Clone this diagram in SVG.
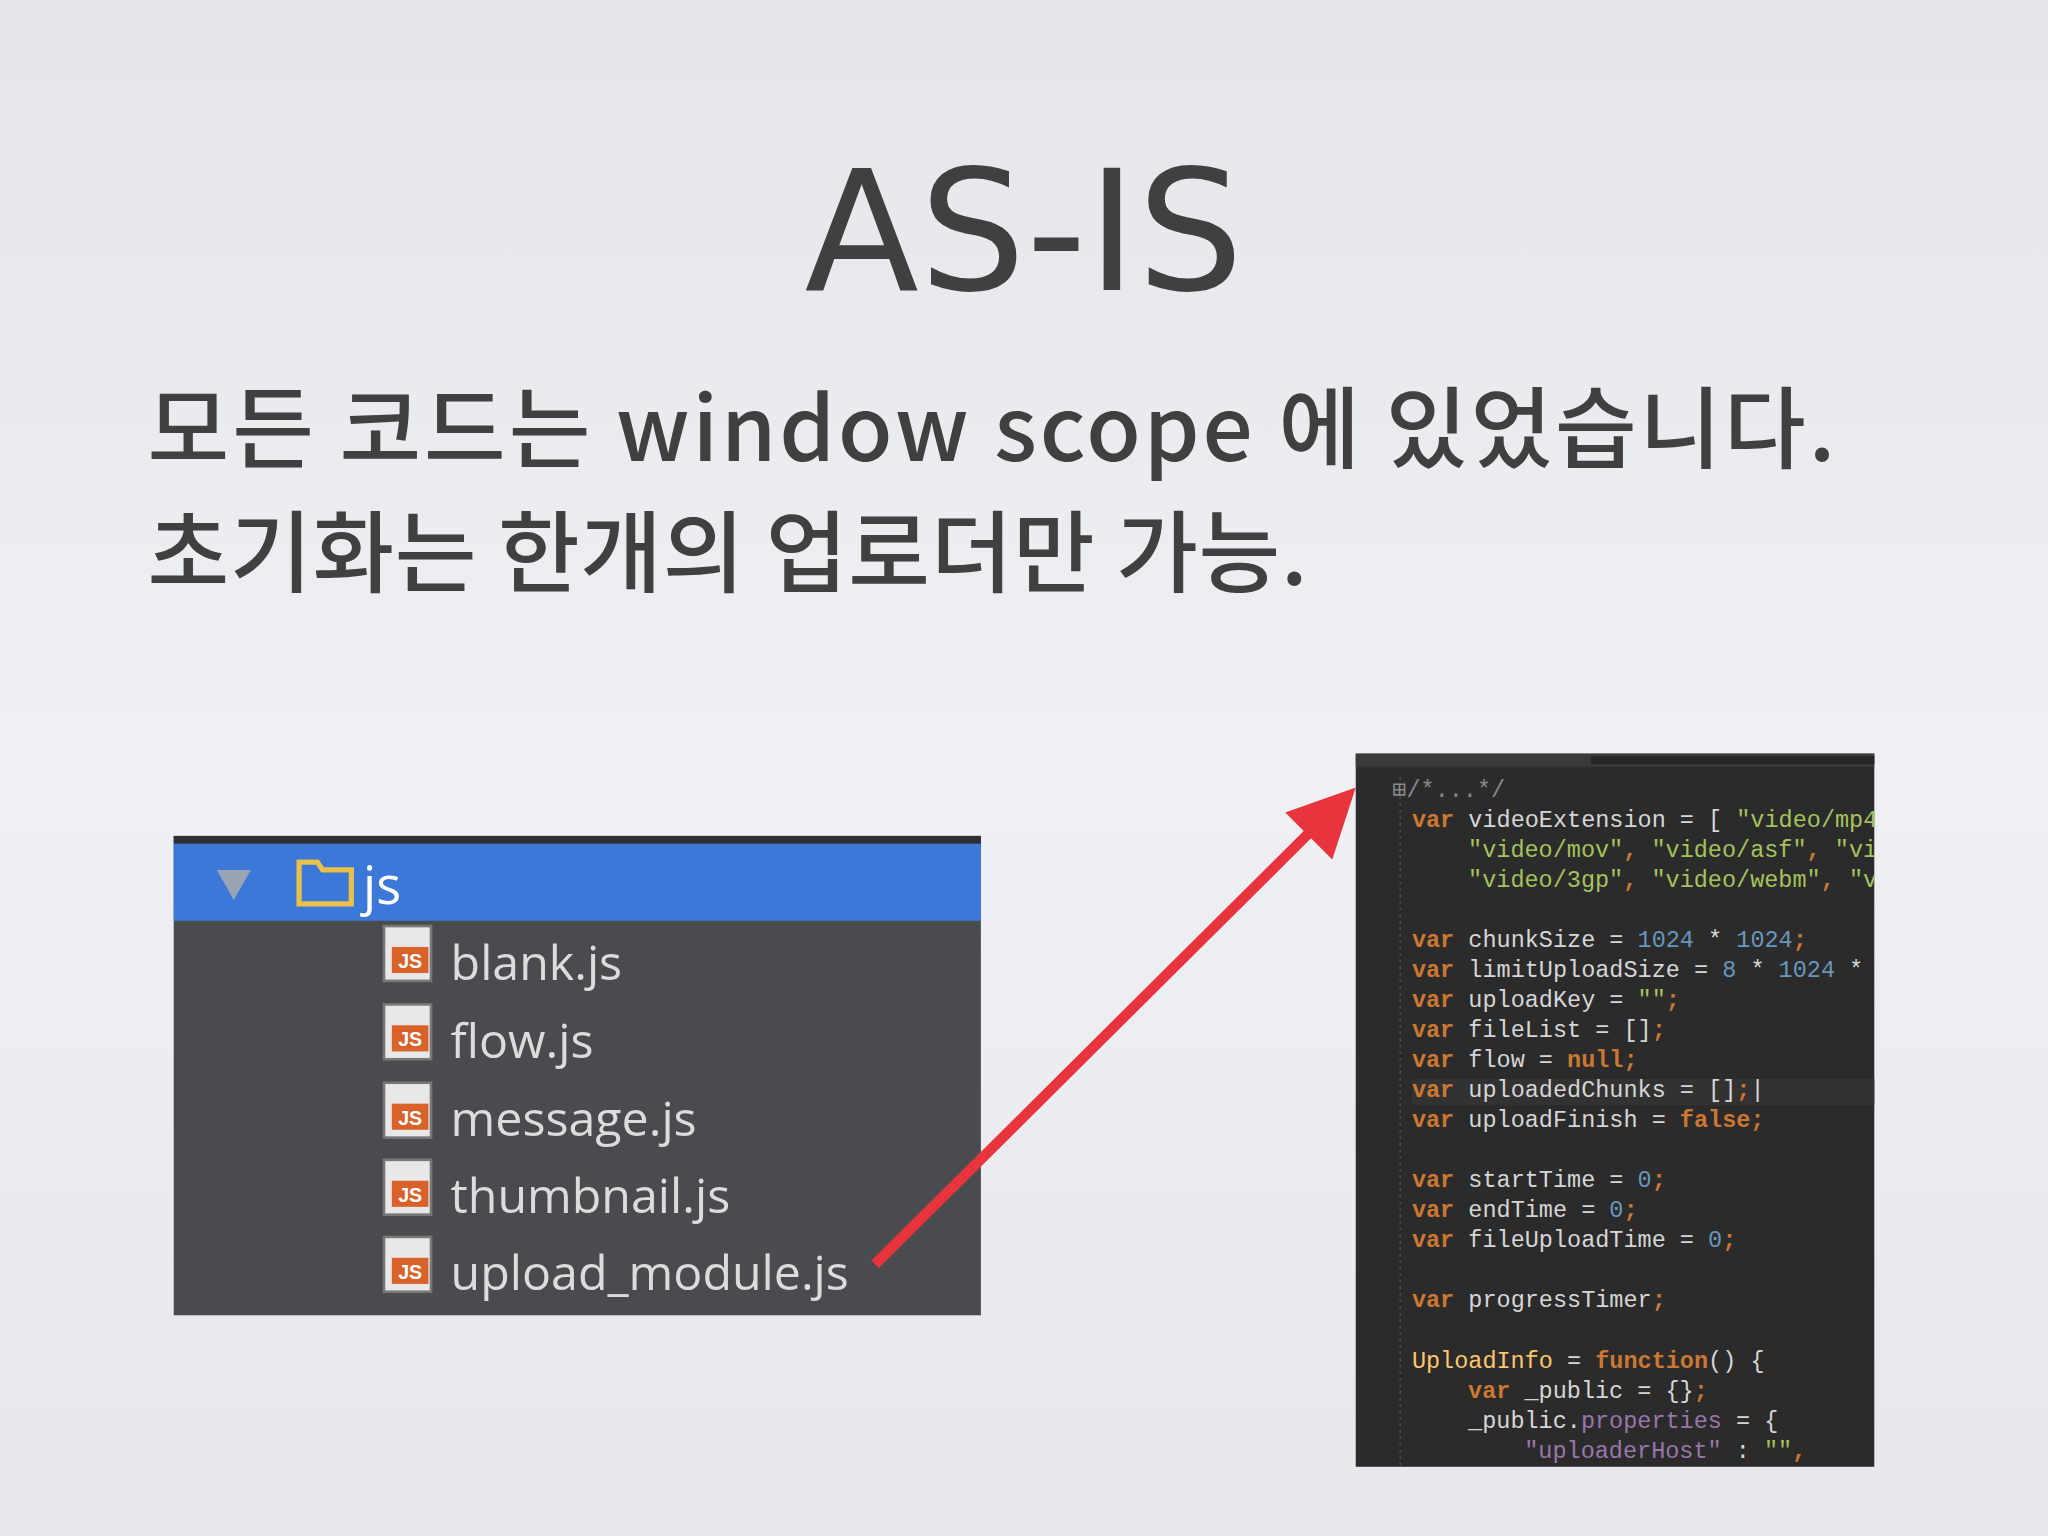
<svg xmlns="http://www.w3.org/2000/svg" width="2048" height="1536" viewBox="0 0 2048 1536">
<defs>
<linearGradient id="bg" x1="0" y1="0" x2="0" y2="1"><stop offset="0" stop-color="#e4e6ea"/><stop offset="0.5" stop-color="#eef0f3"/><stop offset="1" stop-color="#e6e8ec"/></linearGradient>
<clipPath id="cp"><rect x="1038" y="577" width="397" height="546"/></clipPath>
<style>
.h{font-family:"Noto Sans CJK KR","Noto Sans",sans-serif;fill:#404040;font-weight:500}
.f{font-family:"Open Sans","Noto Sans",sans-serif;fill:#dcdcdc;font-size:37px}
.c{font-family:"Liberation Mono","DejaVu Sans Mono",monospace;font-size:18px;fill:#d6d6d6}
.k{fill:#cc7832;font-weight:bold}.n{fill:#6897bb}.s{fill:#a5c25c}.p{fill:#9876aa}
.ic{fill:#e8e8e8;stroke:#777;stroke-width:2}
.jb{fill:#d9622b}
</style>
</defs>
<rect width="2048" height="1536" fill="url(#bg)"/>
<g transform="scale(1.30612)">
<g id="title"><text x="784" y="222" text-anchor="middle" class="h" style="font-family:'DejaVu Sans',sans-serif;font-size:128px;font-weight:normal" textLength="336">AS-IS</text></g>
<g id="subtitle">
<text x="113" y="353" class="h" font-size="68" textLength="1292">모든 코드는 window scope 에 있었습니다.</text>
<text x="113" y="448" class="h" font-size="68" textLength="888">초기화는 한개의 업로더만 가능.</text>
</g>
<g id="filetree">
<rect x="133" y="640" width="618" height="367" fill="#4a4b4e"/>
<rect x="133" y="640" width="618" height="6" fill="#2f3033"/>
<rect x="133" y="646" width="618" height="59" fill="#3c78d8"/>
<polygon points="166,666 192,666 179,689" fill="#9aa4b4"/>
<path d="M229,660 h14 l4,6 h22 v26 h-40 z" fill="none" stroke="#e8c04a" stroke-width="4"/>
<text x="278" y="692" class="f" style="fill:#fff;font-size:40px">js</text>
<g id="files">
<g transform="translate(294,709)"><rect class="ic" x="0" y="0" width="36" height="42"/><rect class="jb" x="6" y="16" width="28" height="20"/><text x="20" y="32" font-family="Liberation Sans,sans-serif" font-size="15" fill="#fff" text-anchor="middle" font-weight="bold">JS</text></g>
<g transform="translate(294,769)"><rect class="ic" x="0" y="0" width="36" height="42"/><rect class="jb" x="6" y="16" width="28" height="20"/><text x="20" y="32" font-family="Liberation Sans,sans-serif" font-size="15" fill="#fff" text-anchor="middle" font-weight="bold">JS</text></g>
<g transform="translate(294,829)"><rect class="ic" x="0" y="0" width="36" height="42"/><rect class="jb" x="6" y="16" width="28" height="20"/><text x="20" y="32" font-family="Liberation Sans,sans-serif" font-size="15" fill="#fff" text-anchor="middle" font-weight="bold">JS</text></g>
<g transform="translate(294,888)"><rect class="ic" x="0" y="0" width="36" height="42"/><rect class="jb" x="6" y="16" width="28" height="20"/><text x="20" y="32" font-family="Liberation Sans,sans-serif" font-size="15" fill="#fff" text-anchor="middle" font-weight="bold">JS</text></g>
<g transform="translate(294,947)"><rect class="ic" x="0" y="0" width="36" height="42"/><rect class="jb" x="6" y="16" width="28" height="20"/><text x="20" y="32" font-family="Liberation Sans,sans-serif" font-size="15" fill="#fff" text-anchor="middle" font-weight="bold">JS</text></g>
<text x="345" y="750" class="f">blank.js</text>
<text x="345" y="810" class="f">flow.js</text>
<text x="345" y="870" class="f">message.js</text>
<text x="345" y="929" class="f">thumbnail.js</text>
<text x="345" y="988" class="f">upload_module.js</text>
</g>
</g>
<g id="code">
<rect x="1038" y="577" width="397" height="546" fill="#2b2b2b"/>
<rect x="1038" y="577" width="397" height="10" fill="#3a3a3a"/>
<rect x="1218" y="579" width="217" height="6" fill="#262626"/>
<line x1="1072" y1="595" x2="1072" y2="1123" stroke="#555" stroke-dasharray="2,3"/>
<rect x="1081" y="826" width="354" height="20" fill="#323232"/>
<g clip-path="url(#cp)" class="c">
<text x="1066" y="610"><tspan fill="#888">⊞/*...*/</tspan></text>
<text x="1081" y="633"><tspan class="k">var</tspan> videoExtension = [ <tspan class="s">"video/mp4"</tspan></text>
<text x="1124" y="656"><tspan class="s">"video/mov"</tspan><tspan class="k">,</tspan> <tspan class="s">"video/asf"</tspan><tspan class="k">,</tspan> <tspan class="s">"video</tspan></text>
<text x="1124" y="679"><tspan class="s">"video/3gp"</tspan><tspan class="k">,</tspan> <tspan class="s">"video/webm"</tspan><tspan class="k">,</tspan> <tspan class="s">"video</tspan></text>
<text x="1081" y="725"><tspan class="k">var</tspan> chunkSize = <tspan class="n">1024</tspan> * <tspan class="n">1024</tspan><tspan class="k">;</tspan></text>
<text x="1081" y="748"><tspan class="k">var</tspan> limitUploadSize = <tspan class="n">8</tspan> * <tspan class="n">1024</tspan> *</text>
<text x="1081" y="771"><tspan class="k">var</tspan> uploadKey = <tspan class="s">""</tspan><tspan class="k">;</tspan></text>
<text x="1081" y="794"><tspan class="k">var</tspan> fileList = []<tspan class="k">;</tspan></text>
<text x="1081" y="817"><tspan class="k">var</tspan> flow = <tspan class="k">null;</tspan></text>
<text x="1081" y="840"><tspan class="k">var</tspan> uploadedChunks = []<tspan class="k">;</tspan>|</text>
<text x="1081" y="863"><tspan class="k">var</tspan> uploadFinish = <tspan class="k">false;</tspan></text>
<text x="1081" y="909"><tspan class="k">var</tspan> startTime = <tspan class="n">0</tspan><tspan class="k">;</tspan></text>
<text x="1081" y="932"><tspan class="k">var</tspan> endTime = <tspan class="n">0</tspan><tspan class="k">;</tspan></text>
<text x="1081" y="955"><tspan class="k">var</tspan> fileUploadTime = <tspan class="n">0</tspan><tspan class="k">;</tspan></text>
<text x="1081" y="1001"><tspan class="k">var</tspan> progressTimer<tspan class="k">;</tspan></text>
<text x="1081" y="1047"><tspan fill="#ffc66d">UploadInfo</tspan> = <tspan class="k">function</tspan>() {</text>
<text x="1124" y="1070"><tspan class="k">var</tspan> _public = {}<tspan class="k">;</tspan></text>
<text x="1124" y="1093">_public.<tspan class="p">properties</tspan> = {</text>
<text x="1167" y="1116"><tspan class="p">"uploaderHost"</tspan> : <tspan class="s">""</tspan><tspan class="k">,</tspan></text>
</g>
</g>
<g id="connectors">
<line x1="670" y1="968" x2="1005" y2="635" stroke="#e8353d" stroke-width="8"/>
<polygon points="1038,603 984,622 1020,658" fill="#e8353d"/>
</g>
</g>
</svg>
